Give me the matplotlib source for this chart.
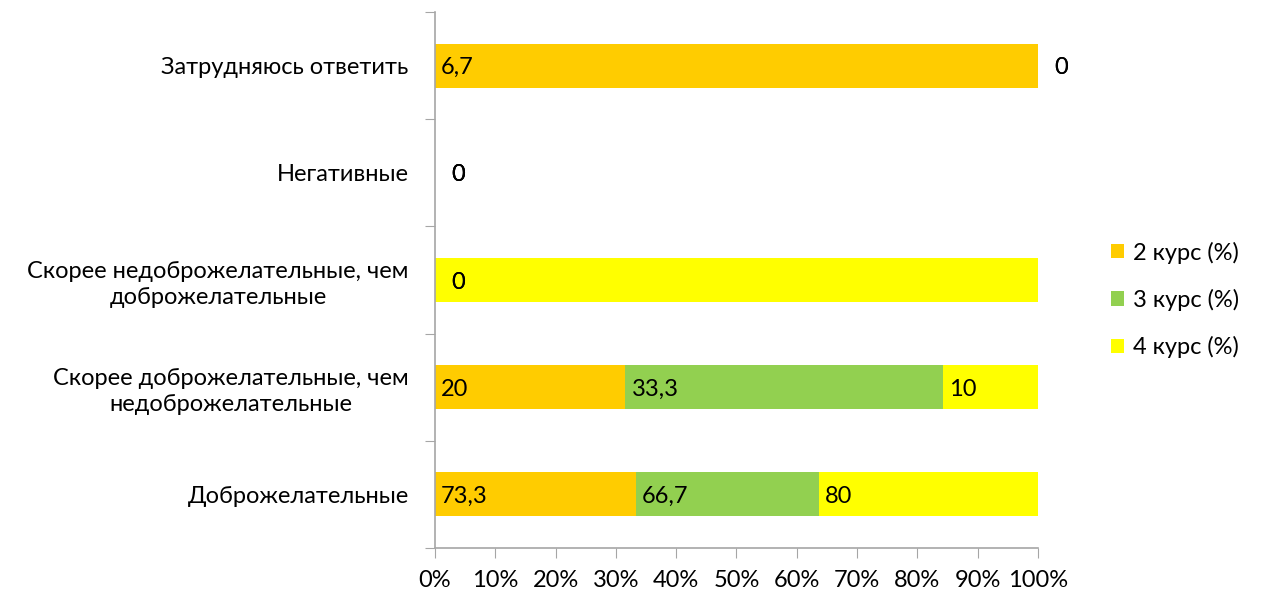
import numpy as np
import matplotlib
matplotlib.use('Agg')
import matplotlib.pyplot as plt
from matplotlib.ticker import PercentFormatter

plt.rcParams['font.family'] = ['Lato', 'DejaVu Sans']

# categories, bottom to top
categories = ['Доброжелательные',
              'Скорее доброжелательные, чем\nнедоброжелательные',
              'Скорее недоброжелательные, чем\nдоброжелательные',
              'Негативные',
              'Затрудняюсь ответить']
series_names = ['2 курс (%)', '3 курс (%)', '4 курс (%)']
kurs2 = [73.3, 20, 0, 0, 6.7]
kurs3 = [66.7, 33.3, 0, 0, 0]
kurs4 = [80, 10, 10, 0, 0]
colors = ['#FFCC00', '#92D050', '#FFFF00']

# label of 4 курс in the third row is not shown in the original
hidden = {(2, 2)}

data = np.array([kurs2, kurs3, kurs4], dtype=float)
totals = data.sum(axis=0)
totals[totals == 0] = 1
share = data / totals * 100

FS = 17

fig = plt.figure(figsize=(12.61, 5.99), dpi=100)
ax = fig.add_axes([0.345, 0.085, 0.478, 0.895])

y = np.arange(len(categories))
left = np.zeros(len(categories))
for i, name in enumerate(series_names):
    ax.barh(y, share[i], left=left, height=0.41, color=colors[i], label=name)
    for j in range(len(categories)):
        if (j, i) in hidden:
            continue
        txt = ('%g' % data[i, j]).replace('.', ',')
        off = 4.3 if share[i, j] > 0 else 11.5
        ax.annotate(txt, (left[j], y[j]), xytext=(off, -1.5), textcoords='offset points',
                    ha='left', va='center', fontsize=FS, color='black')
    left += share[i]

ax.set_xlim(0, 100)
ax.set_ylim(-0.5, len(categories) - 0.5)
ax.xaxis.set_major_locator(plt.MultipleLocator(10))
ax.xaxis.set_major_formatter(PercentFormatter(decimals=0))
ax.set_yticks(np.arange(-0.5, len(categories), 1))
ax.set_yticklabels([])
ax.set_yticks(y, minor=True)
ax.set_yticklabels(categories, minor=True, ha='right', multialignment='center',
                   linespacing=1.3)
ax.tick_params(axis='y', which='minor', length=0, pad=19, labelsize=FS)
ax.tick_params(axis='y', which='major', length=7, color='#A6A6A6', direction='out')
ax.tick_params(axis='x', length=7, color='#A6A6A6', labelsize=FS, pad=9)
for s in ['top', 'right']:
    ax.spines[s].set_visible(False)
for s in ['left', 'bottom']:
    ax.spines[s].set_color('#A6A6A6')
    ax.spines[s].set_linewidth(1.2)

ax.legend(loc='center left', bbox_to_anchor=(1.105, 0.463), frameon=False, fontsize=FS,
          handlelength=0.55, handleheight=0.55, labelspacing=1.07, handletextpad=0.4,
          borderaxespad=0)

fig.savefig('out.png', dpi=100)
